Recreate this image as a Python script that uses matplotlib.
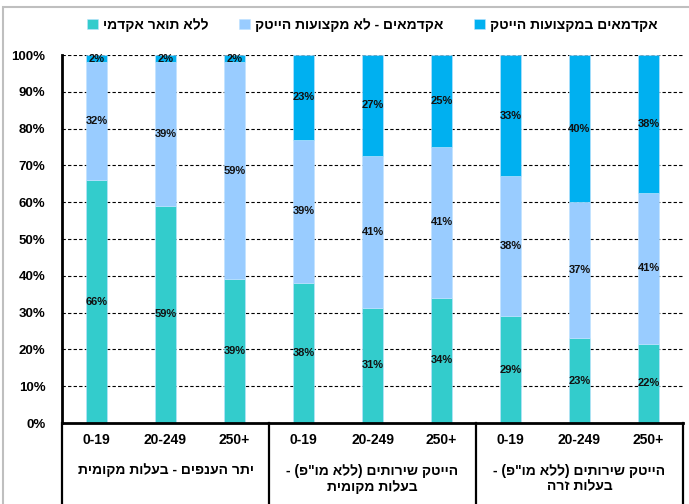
import matplotlib
matplotlib.use("Agg")
import matplotlib.pyplot as plt
from matplotlib.patches import Rectangle
from matplotlib.ticker import FuncFormatter


plt.rcParams["font.family"] = ["Liberation Sans", "DejaVu Sans"]

SIZES = ["0-19", "20-249", "250+"] * 3
GROUPS = [
  "יתר הענפים - בעלות מקומית",
  "הייטק שירותים (ללא מו\"פ) -\nבעלות מקומית",
  "הייטק שירותים (ללא מו\"פ) -\nבעלות זרה",
]
NO_DEGREE = [66, 59, 39, 38, 31.3, 34, 29, 23, 21.6]
ACAD_OTHER = [32, 39, 59, 39, 41.3, 41, 38, 37, 40.8]
ACAD_HITECH = [2, 2, 2, 23, 27.4, 25, 33, 40, 37.6]

SERIES = [
  ("ללא תואר אקדמי", NO_DEGREE, "#33CCCC"),
  ("אקדמאים - לא מקצועות הייטק", ACAD_OTHER, "#99CCFF"),
  ("אקדמאים במקצועות הייטק", ACAD_HITECH, "#00B0F0"),
]

MIRROR = {"(": ")", ")": "("}


def rtl(text):
  # matplotlib has no bidi support, so lay Hebrew out in visual order
  lines = []
  for line in text.split("\n"):
    lines.append("".join(MIRROR.get(c, c) for c in reversed(line)))
  return "\n".join(lines)


W, H = 689, 504
fig = plt.figure(figsize=(W / 100, H / 100), dpi=100)
left, right, top, bottom = 62, 683, 55, 423
ax = fig.add_axes([
  left / W, 1 - bottom / H, (right - left) / W, (bottom - top) / H,
])

x = list(range(len(SIZES)))
base = [0] * len(x)
for name, vals, color in SERIES:
  ax.bar(x, vals, bottom=base, width=0.31, color=color,
         edgecolor="#BFE3FF", linewidth=0.4, label=rtl(name), zorder=2)
  for xi, b, v in zip(x, base, vals):
    ax.text(xi, b + v / 2, f"{round(v)}%", ha="center", va="center",
            fontsize=8, fontweight="bold", color="#111111", zorder=3)
  base = [b + v for b, v in zip(base, vals)]

ax.set_xlim(-0.5, len(x) - 0.5)
ax.set_ylim(0, 100)
ax.set_yticks(range(0, 101, 10))
ax.yaxis.set_major_formatter(FuncFormatter(lambda v, _: f"{v:.0f}%"))
ax.set_xticks([])
ax.tick_params(axis="y", length=0, pad=12, labelsize=9.5)
for lab in ax.get_yticklabels():
  lab.set_fontweight("bold")
ax.grid(axis="y", color="black", linestyle=(0, (3, 2)), linewidth=0.8,
        zorder=0)
for s in ("top", "right"):
  ax.spines[s].set_visible(False)
ax.spines["left"].set_linewidth(2)
ax.spines["bottom"].set_linewidth(2)

# category table under the axis
trans = ax.get_xaxis_transform()
low = -(H - bottom) / (bottom - top)
for xb in (-0.5, 2.5, 5.5, 8.5):
  ax.plot([xb, xb], [0, low], color="black", linewidth=1.6,
          transform=trans, clip_on=False)
for xi, lab in zip(x, SIZES):
  ax.text(xi, -17 / (bottom - top), lab, transform=trans, ha="center",
          va="center", fontsize=10, fontweight="bold")
for gi, g in enumerate(GROUPS):
  ypos = -47 if "\n" not in g else -56
  ax.text(gi * 3 + 1, ypos / (bottom - top), rtl(g), transform=trans,
          ha="center", va="center", fontsize=10, fontweight="bold",
          linespacing=1.1)

fig.legend(
  loc="center", bbox_to_anchor=((left + right) / 2 / W, 1 - 25 / H),
  ncol=3, frameon=False, handlelength=0.75, handleheight=0.75,
  handletextpad=0.4, columnspacing=2.2,
  prop={"size": 10, "weight": "bold"},
)

fig.patches.append(Rectangle(
  (3 / W, -0.05), 1.2, 1 - 7 / H + 0.05, transform=fig.transFigure,
  fill=False, edgecolor="#BFBFBF", linewidth=1.5,
))

fig.savefig("out.png", dpi=100)
